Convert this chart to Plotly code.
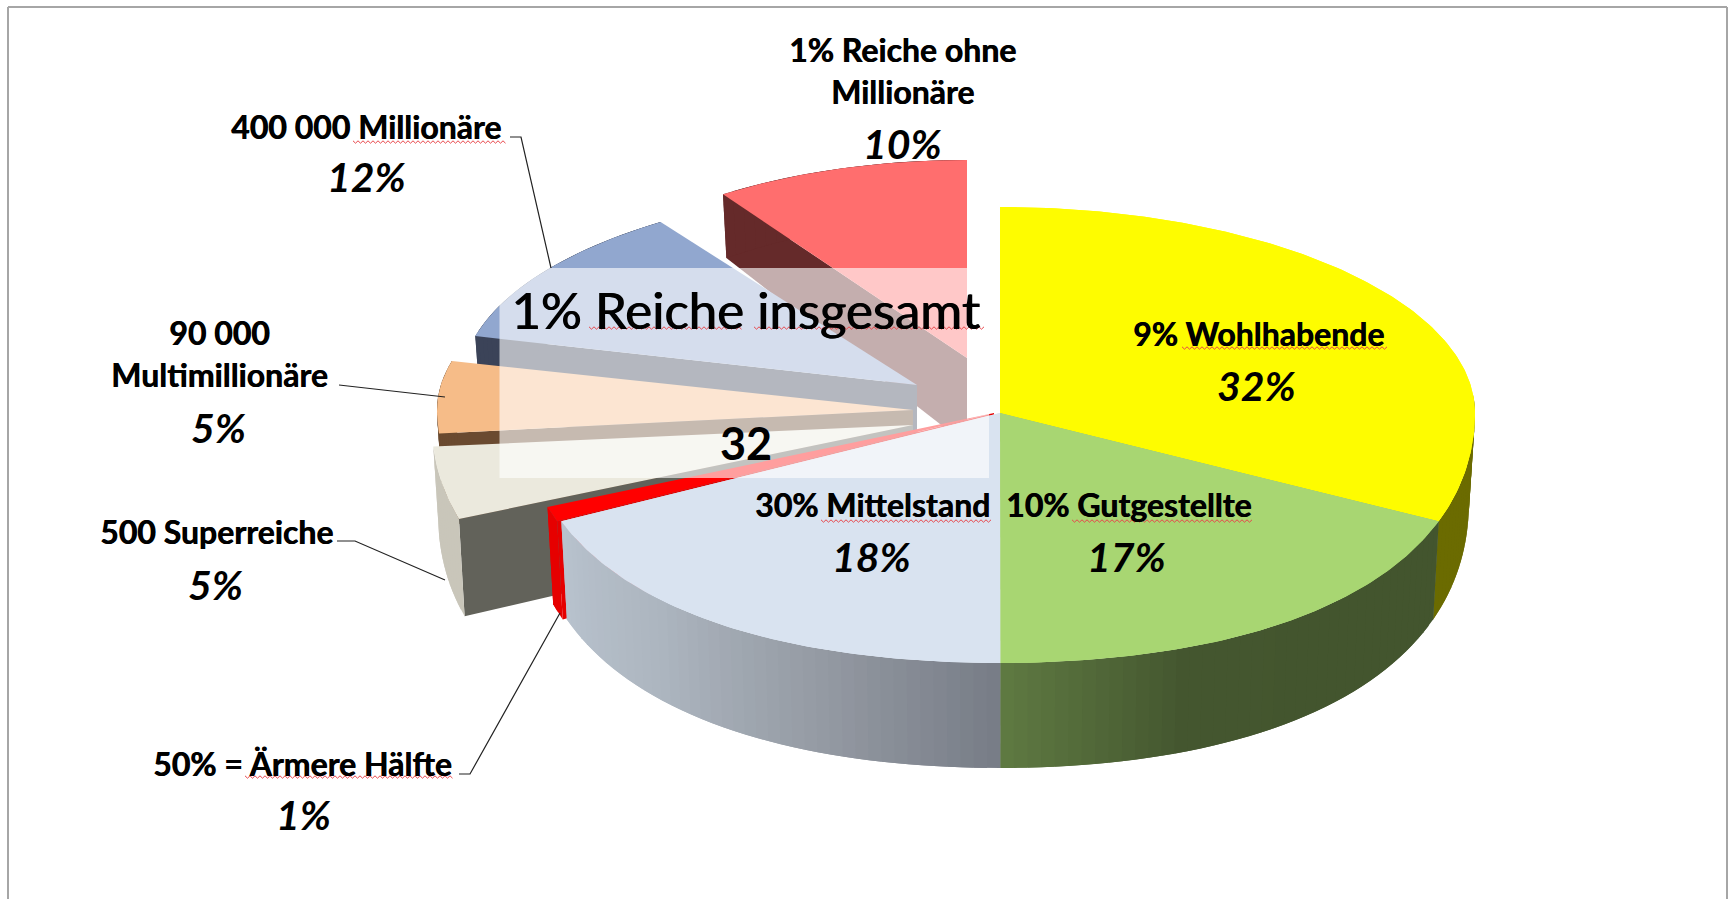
import numpy as np
import plotly.graph_objects as go

# ---- data ----
categories = ["9% Wohlhabende", "10% Gutgestellte", "30% Mittelstand", "50% = Ärmere Hälfte",
              "500 Superreiche", "90 000<br>Multimillionäre", "400 000 Millionäre", "1% Reiche ohne<br>Millionäre"]
values = [32.49, 17.49, 17.51, 1.0, 5.0, 5.49, 11.5, 9.5]
percent_labels = ["32%", "17%", "18%", "1%", "5%", "5%", "12%", "10%"]
overlay_title = "1% Reiche insgesamt"
overlay_value = "32"

# ---- styling / layout only ----
W, H = 1729, 899
FONT = "Lato"

STYLE = [
    dict(ax=1000, ay=413, rx=475, rt=206, rb=250, warp=True, top="#fefc00", rim=["#6b6b00"], cut="#6b6b00"),
    dict(ax=1000, ay=413, rx=475, rt=206, rb=250, warp=True, top="#a8d672", rim=["#43552e", "#43552e", "#44562f", "#5f7a42"], cut="#43552e"),
    dict(ax=1000, ay=413, rx=475, rt=206, rb=250, warp=True, top="#d9e3f0", rim=["#777c86", "#959ba4", "#adb6c0", "#b8c2cd"], cut="#b8c2cd"),
    dict(ax=994, ay=413, rx=473, rt=206, rb=250, warp=True, top="#ff0000", rim=["#e60000"], cut="#e60000"),
    dict(ax=913, ay=425, rx=481, rt=206, rb=250, warp=True, top="#ebe9dd", rim=["#c9c6ba"], cut="#62625a"),
    dict(ax=913, ay=410, rx=476, rt=197, rb=250, warp=False, top="#f6bc88", rim=["#6a4a30"], cut="#6a4a30"),
    dict(ax=917, ay=385, rx=456, rt=197, rb=240, warp=False, top="#91a7cf", rim=["#3b4358"], cut="#3b4358"),
    dict(ax=967, ay=358, rx=434, rt=198, rb=240, warp=False, top="#ff6e6e", rim=["#652a2a"], cut="#652a2a"),
]

TEXT = [
    ((1258, 333), (1256, 385)),
    ((1128, 504), (1126, 556)),
    ((872, 504), (871, 556)),
    ((302, 763), (303, 814)),
    ((216, 531), (215, 584)),
    ((219, 353), (218, 427)),
    ((366, 126), (366, 176)),
    ((902, 70), (902, 143)),
]
LEADERS = [
    [(510, 137), (521, 137), (551, 268)],
    [(339, 385), (445, 397)],
    [(337, 541), (355, 541), (445, 580)],
    [(459, 774), (470, 774), (560, 613)],
]
SQUIGGLES = [(353, 505, 142), (589, 742, 328), (754, 985, 328), (1182, 1387, 348),
             (1072, 1253, 521), (821, 991, 521), (245, 454, 777)]
BOX = (499.5, 268, 989, 478)


def rim_top(s, a):
    a = np.asarray(a, dtype=float)
    front = np.cos(a) < 0
    if s["warp"]:
        a = np.where(front, a + 0.04 * np.sin(2 * a), a)
    bump = np.where(front & s["warp"], 1 + 0.034 * np.sin(2 * a) ** 2, 1.0)
    c = np.cos(a)
    ry = np.where(c > 0, s["rt"], s["rb"])
    return s["ax"] + bump * s["rx"] * np.sin(a), s["ay"] - bump * ry * c


def depth(a):
    c = np.cos(a)
    return np.where(c > 0, 87 - 28 * c, 87 + 18 * np.abs(c) ** 0.6)


def rim_bottom(s, a):
    x, y = rim_top(s, a)
    shrink = (s["rx"] - 6) / s["rx"]
    return s["ax"] + (x - s["ax"]) * shrink, y + depth(a)


def mix(cols, t):
    if len(cols) == 1:
        return cols[0]
    pos = t * (len(cols) - 1)
    i = min(int(pos), len(cols) - 2)
    f = pos - i
    a = [int(cols[i][k:k + 2], 16) for k in (1, 3, 5)]
    b = [int(cols[i + 1][k:k + 2], 16) for k in (1, 3, 5)]
    return "#%02x%02x%02x" % tuple(round(p + (q - p) * f) for p, q in zip(a, b))


fig = go.Figure()


def poly(xs, ys, color, lw=0.0):
    fig.add_trace(go.Scatter(x=list(xs), y=list(ys), mode="lines", fill="toself", fillcolor=color,
                             line=dict(color=color, width=lw), hoverinfo="skip", showlegend=False))


def top_face(s, a0, a1):
    arc = np.linspace(a0, a1, max(8, int((a1 - a0) / np.radians(0.8))))
    tx, ty = rim_top(s, arc)
    poly(np.r_[s["ax"], tx, s["ax"]], np.r_[s["ay"], ty, s["ay"]], s["top"])


def draw_slice(s, a0, a1, wall_from=None):
    tx, ty = rim_top(s, np.array([a0]))
    bx, by = rim_bottom(s, np.array([a0]))
    poly([s["ax"], tx[0], bx[0], s["ax"]],
         [s["ay"], ty[0], by[0], s["ay"] + 87], s["cut"])
    start = a0 if wall_from is None else wall_from
    n = max(2, int((a1 - start) / np.radians(1.5)))
    edges = np.linspace(start, a1, n + 1)
    # each strip runs on under the next one, so no seam shows between them
    for i in range(n):
        seg = np.linspace(edges[i], edges[min(i + 2, n)], 6)
        sx, sy = rim_top(s, seg)
        ux, uy = rim_bottom(s, seg)
        poly(np.r_[sx, ux[::-1]], np.r_[sy, uy[::-1]], mix(s["rim"], (i + 0.5) / n))
    top_face(s, a0, a1)


total = sum(values)
edges = 2 * np.pi * np.cumsum([0] + values) / total

for i in [7, 6, 5, 4, 3]:
    draw_slice(STYLE[i], edges[i], edges[i + 1])
for i, wall_from in [(0, np.radians(85)), (1, None), (2, None)]:
    draw_slice(STYLE[i], edges[i], edges[i + 1], wall_from=wall_from)
for i in (0, 1, 2):
    top_face(STYLE[i], edges[i], edges[i + 1])

for pts in LEADERS:
    fig.add_trace(go.Scatter(x=[p[0] for p in pts], y=[p[1] for p in pts], mode="lines",
                             line=dict(color="#222222", width=1.2), hoverinfo="skip", showlegend=False))

shapes = [
    dict(type="rect", x0=BOX[0], y0=BOX[1], x1=BOX[2], y1=BOX[3], fillcolor="rgba(255,255,255,0.62)",
         line=dict(width=0), layer="above"),
    dict(type="line", x0=8, y0=7, x1=8, y1=H, line=dict(color="#a6a6a6", width=2)),
    dict(type="line", x0=8, y0=7, x1=1727, y1=7, line=dict(color="#a6a6a6", width=2)),
    dict(type="line", x0=1727, y0=7, x1=1727, y1=H, line=dict(color="#a6a6a6", width=2)),
]
for x0, x1, y in SQUIGGLES:
    xs = np.arange(x0, x1 + 1, 2.5)
    path = "M " + " L ".join(f"{x:.1f} {y + (1.2 if k % 2 else -1.2):.1f}" for k, x in enumerate(xs))
    shapes.append(dict(type="path", path=path, line=dict(color="#e8474c", width=1), layer="above"))

annotations = []


def txt(x, y, t, size, shadow=None):
    font = dict(family=FONT, size=size, color="#000000")
    if shadow:
        font["shadow"] = shadow
    annotations.append(dict(x=x, y=y, xref="x", yref="y", text=t, showarrow=False, xanchor="center",
                            yanchor="middle", align="center", font=font))


for cat, pct, (lp, pp) in zip(categories, percent_labels, TEXT):
    txt(lp[0], lp[1], f"<b>{cat}</b>", 32, shadow="0.6px 0 0 #000000")
    txt(pp[0], pp[1], f"<b><i>{pct}</i></b>", 41)
txt(745, 309, overlay_title, 51, shadow="1px 0 0 #000000")
txt(746, 443, f"<b>{overlay_value}</b>", 45)

fig.update_layout(
    width=W, height=H, margin=dict(l=0, r=0, t=0, b=0), paper_bgcolor="white", plot_bgcolor="white",
    xaxis=dict(range=[0, W], visible=False, fixedrange=True),
    yaxis=dict(range=[H, 0], visible=False, fixedrange=True),
    shapes=shapes, annotations=annotations, showlegend=False, hovermode=False,
)
fig.write_html("out.html", config={"displayModeBar": False},
               post_script="document.body.style.margin='0';document.documentElement.style.overflow='hidden';")
